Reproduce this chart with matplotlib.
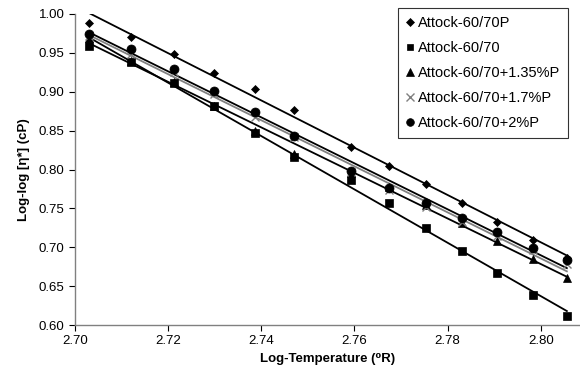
import numpy as np
import matplotlib
matplotlib.use("Agg")
import matplotlib.pyplot as plt
from matplotlib.lines import Line2D

plt.rcParams['font.family'] = ['Liberation Sans', 'DejaVu Sans']

log_temp = [2.7029, 2.7121, 2.7212, 2.7299, 2.7386, 2.7470, 2.7593,
            2.7674, 2.7754, 2.7831, 2.7907, 2.7983, 2.8056]

s_60_70P = [0.988, 0.970, 0.949, 0.9245, 0.904, 0.8765, 0.8286,
            0.805, 0.7814, 0.7565, 0.733, 0.709, 0.686]
s_60_70 = [0.9588, 0.938, 0.9117, 0.882, 0.847, 0.816, 0.7865,
           0.7565, 0.725, 0.6956, 0.6665, 0.638, 0.6116]
s_135P = [0.969, 0.940, 0.912, 0.8817, 0.850, 0.820, 0.795,
          0.777, 0.754, 0.731, 0.7085, 0.685, 0.661]
s_17P = [0.972, 0.949, 0.925, 0.897, 0.868, 0.842, 0.797,
         0.774, 0.752, 0.733, 0.714, 0.696, 0.678]
s_2P = [0.9743, 0.9546, 0.9289, 0.9014, 0.8744, 0.843, 0.798,
        0.776, 0.757, 0.737, 0.719, 0.6994, 0.6836]

labels = ["Attock-60/70P", "Attock-60/70", "Attock-60/70+1.35%P",
          "Attock-60/70+1.7%P", "Attock-60/70+2%P"]
x_ticks = [2.70, 2.72, 2.74, 2.76, 2.78, 2.80]
y_ticks = [0.60, 0.65, 0.70, 0.75, 0.80, 0.85, 0.90, 0.95, 1.00]

series = [s_60_70P, s_60_70, s_135P, s_17P, s_2P]
markers = ['D', 's', '^', 'x', 'o']
msizes = [4.5, 5.5, 6, 6, 6.5]
mcolors = ['black', 'black', 'black', '#808080', 'black']
lcolors = ['black', 'black', 'black', '#808080', 'black']

fig = plt.figure(figsize=(5.8, 3.74), dpi=100)
ax = fig.add_axes([75/580, 49/374, (580-75)/580, (325-14)/374])

x = np.array(log_temp)
handles = []
for ys, m, ms, mc, lc, lab in zip(series, markers, msizes, mcolors, lcolors, labels):
    ys = np.array(ys)
    ax.plot(x, ys, linestyle='none', marker=m, markersize=ms, color=mc,
            markeredgewidth=1.0 if m == 'x' else 0.5, zorder=3)
    k, b = np.polyfit(x, ys, 1)
    xx = np.array([x.min(), x.max()])
    ax.plot(xx, k*xx + b, color=lc, lw=1.3, zorder=2)
    handles.append(Line2D([], [], linestyle='none', marker=m, markersize=ms*0.85,
                          color=mc, markeredgewidth=1.0 if m == 'x' else 0.5, label=lab))

ax.set_xlim(2.70, 2.70 + (580-74)/4667)
ax.set_ylim(0.60, 1.00)
ax.set_xticks(x_ticks)
ax.set_xticklabels([f"{v:.2f}" for v in x_ticks])
ax.set_yticks(y_ticks)
ax.set_yticklabels([f"{v:.2f}" for v in y_ticks])
ax.tick_params(direction='out', length=4, width=0.8, labelsize=9.5, colors='black')
for sp in ['top', 'right']:
    ax.spines[sp].set_visible(False)
for sp in ['left', 'bottom']:
    ax.spines[sp].set_color('#808080')
    ax.spines[sp].set_linewidth(1.0)

ax.set_xlabel("Log-Temperature (\u2070R)", fontsize=9.5, fontweight='bold', labelpad=4)
ax.set_ylabel("Log-log [\u03b7*] (cP)", fontsize=9.5, fontweight='bold', labelpad=6)

leg = ax.legend(handles=handles, loc='upper left', bbox_to_anchor=(398/580, 1-8/374),
                bbox_transform=fig.transFigure, fontsize=10.5, frameon=True, fancybox=False,
                edgecolor='black', handlelength=0.6, handletextpad=0.2,
                labelspacing=0.75, borderpad=0.55, borderaxespad=0)
leg.get_frame().set_linewidth(0.8)

fig.savefig("out.png", dpi=100)
